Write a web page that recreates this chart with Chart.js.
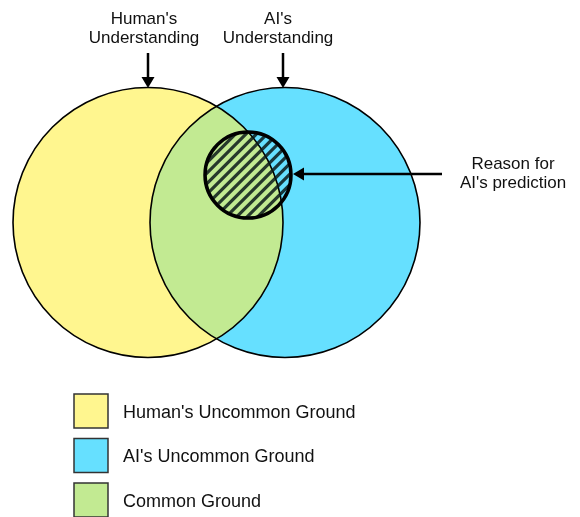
<!DOCTYPE html>
<html>
<head>
<meta charset="utf-8">
<script src="https://cdn.jsdelivr.net/npm/chart.js@4.4.1/dist/chart.umd.min.js"></script>
<style>
  html, body { margin: 0; padding: 0; background: #ffffff; }
  #wrap { width: 580px; height: 517px; position: relative; }
</style>
</head>
<body>
<div id="wrap"><canvas id="c" width="580" height="517"></canvas></div>
<script>
// ---- data ----
const setNames = ["Human's Understanding", "AI's Understanding"];
const setLabelLines = [["Human's", "Understanding"], ["AI's", "Understanding"]];
const setCenterX = [148, 285];
const setCenterY = [222.5, 222.5];
const setRadius = [135, 135];
const reasonLabelLines = ["Reason for", "AI's prediction"];
const reasonCenterX = [248];
const reasonCenterY = [175];
const reasonRadius = [43];
const legendLabels = ["Human's Uncommon Ground", "AI's Uncommon Ground", "Common Ground"];

// ---- styles ----
const YELLOW = '#FFF68F';
const BLUE = '#66E0FF';
const GREEN = '#C2EA92';
const FONT = '"Liberation Sans", Arial, Helvetica, sans-serif';

function circlePath(ctx, x, y, r) {
  ctx.beginPath();
  ctx.arc(x, y, r, 0, Math.PI * 2);
  ctx.closePath();
}
function arrow(ctx, x1, y1, x2, y2) {
  const ang = Math.atan2(y2 - y1, x2 - x1);
  const hl = 11, hw = 6.5;
  const bx = x2 - Math.cos(ang) * hl, by = y2 - Math.sin(ang) * hl;
  ctx.save();
  ctx.strokeStyle = '#000'; ctx.fillStyle = '#000'; ctx.lineWidth = 2.5;
  ctx.beginPath(); ctx.moveTo(x1, y1); ctx.lineTo(bx, by); ctx.stroke();
  ctx.beginPath();
  ctx.moveTo(x2, y2);
  ctx.lineTo(bx - Math.sin(ang) * hw, by + Math.cos(ang) * hw);
  ctx.lineTo(bx + Math.sin(ang) * hw, by - Math.cos(ang) * hw);
  ctx.closePath(); ctx.fill();
  ctx.restore();
}

const vennPlugin = {
  id: 'venn',
  afterDatasetsDraw(chart) {
    const ctx = chart.ctx;
    const xs = chart.scales.x, ys = chart.scales.y;
    const px = v => xs.getPixelForValue(v);
    const py = v => ys.getPixelForValue(v);
    const pr = r => Math.abs(xs.getPixelForValue(r) - xs.getPixelForValue(0));

    const c = setCenterX.map((x, i) => ({ x: px(x), y: py(setCenterY[i]), r: pr(setRadius[i]) }));

    // intersection (common ground)
    ctx.save();
    circlePath(ctx, c[0].x, c[0].y, c[0].r); ctx.clip();
    circlePath(ctx, c[1].x, c[1].y, c[1].r);
    ctx.fillStyle = GREEN; ctx.fill();
    ctx.restore();

    // outlines
    ctx.save();
    ctx.strokeStyle = '#000'; ctx.lineWidth = 1.6;
    c.forEach(o => { circlePath(ctx, o.x, o.y, o.r); ctx.stroke(); });
    ctx.restore();

    // reason circle with hatching
    const rc = { x: px(reasonCenterX[0]), y: py(reasonCenterY[0]), r: pr(reasonRadius[0]) };
    ctx.save();
    circlePath(ctx, rc.x, rc.y, rc.r); ctx.clip();
    ctx.strokeStyle = 'rgba(10,25,25,0.85)'; ctx.lineWidth = 3.2;
    const period = 10.5;
    for (let k = -2 * rc.r; k <= 2 * rc.r + period; k += period) {
      ctx.beginPath();
      ctx.moveTo(rc.x - rc.r + k - rc.r, rc.y + rc.r + 2);
      ctx.lineTo(rc.x - rc.r + k + rc.r + 4, rc.y - rc.r - 2);
      ctx.stroke();
    }
    ctx.restore();
    ctx.save();
    ctx.strokeStyle = '#000'; ctx.lineWidth = 3.5;
    circlePath(ctx, rc.x, rc.y, rc.r); ctx.stroke();
    ctx.restore();

    // arrows
    arrow(ctx, c[0].x, 53, c[0].x, c[0].y - c[0].r + 0.5);
    arrow(ctx, c[1].x - 2, 53, c[1].x - 2, c[1].y - c[1].r + 0.5);
    arrow(ctx, 442, rc.y - 1, rc.x + rc.r + 2, rc.y - 1);

    // texts
    ctx.save();
    ctx.fillStyle = '#111';
    ctx.font = '17px ' + FONT;
    ctx.textAlign = 'center'; ctx.textBaseline = 'alphabetic';
    const labelX = [144, 278];
    setLabelLines.forEach((lines, i) => {
      lines.forEach((t, j) => ctx.fillText(t, labelX[i], 24 + j * 19));
    });
    reasonLabelLines.forEach((t, j) => ctx.fillText(t, 513, 169 + j * 19));
    ctx.restore();

    // legend
    const fills = [YELLOW, BLUE, GREEN];
    ctx.save();
    legendLabels.forEach((t, i) => {
      const y0 = 394 + i * 44.5;
      ctx.fillStyle = fills[i];
      ctx.fillRect(74, y0, 34, 34);
      ctx.strokeStyle = '#333'; ctx.lineWidth = 1.5;
      ctx.strokeRect(74, y0, 34, 34);
      ctx.fillStyle = '#111';
      ctx.font = '18px ' + FONT;
      ctx.textAlign = 'left'; ctx.textBaseline = 'alphabetic';
      ctx.fillText(t, 123, y0 + 23.5);
    });
    ctx.restore();
  }
};

new Chart(document.getElementById('c'), {
  type: 'bubble',
  data: {
    datasets: setNames.map((n, i) => ({
      label: n,
      data: [{ x: setCenterX[i], y: setCenterY[i], r: setRadius[i] }],
      backgroundColor: [YELLOW, BLUE][i],
      borderWidth: 0,
      hoverRadius: 0,
      clip: false
    }))
  },
  options: {
    responsive: false,
    animation: false,
    events: [],
    layout: { padding: 0, autoPadding: false },
    scales: {
      x: { type: 'linear', min: 0, max: 580, display: false },
      y: { type: 'linear', min: 0, max: 517, reverse: true, display: false }
    },
    plugins: { legend: { display: false }, tooltip: { enabled: false } }
  },
  plugins: [vennPlugin]
});
</script>
</body>
</html>
